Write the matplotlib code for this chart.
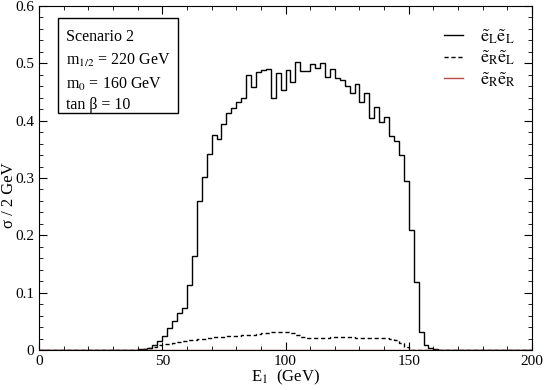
import numpy as np
import matplotlib
matplotlib.use("Agg")
import matplotlib.pyplot as plt
from matplotlib.patches import Rectangle
from matplotlib.ticker import MultipleLocator, FuncFormatter

# 2 GeV bins, first bin starts at E = 40 GeV
bin_width = 2.0
e_start = 40.0

# e~L e~L  (sigma / 2 GeV)
sel_lL = [
    0.001, 0.002, 0.004, 0.009, 0.016, 0.024, 0.038, 0.051, 0.065, 0.074,
    0.113, 0.164, 0.260, 0.301, 0.341, 0.375, 0.368, 0.394, 0.413, 0.422,
    0.433, 0.440, 0.479, 0.459, 0.485, 0.488, 0.490, 0.439, 0.483, 0.454,
    0.488, 0.467, 0.502, 0.486, 0.486, 0.498, 0.492, 0.500, 0.477, 0.490,
    0.474, 0.471, 0.461, 0.448, 0.464, 0.433, 0.449, 0.404, 0.424, 0.398,
    0.407, 0.373, 0.365, 0.340, 0.295, 0.209, 0.119, 0.032, 0.009, 0.003,
    0.001,
]

# e~R e~L
sel_RL = [
    0.000, 0.001, 0.003, 0.006, 0.008, 0.010, 0.011, 0.013, 0.014, 0.015,
    0.017, 0.018, 0.019, 0.020, 0.021, 0.022, 0.023, 0.023, 0.024, 0.025,
    0.025, 0.026, 0.027, 0.027, 0.028, 0.029, 0.030, 0.031, 0.032, 0.032,
    0.031, 0.030, 0.027, 0.023, 0.021, 0.021, 0.021, 0.021, 0.021, 0.022,
    0.022, 0.022, 0.022, 0.022, 0.021, 0.021, 0.021, 0.021, 0.021, 0.021,
    0.021, 0.020, 0.017, 0.012, 0.005,
]

labels = [r"$\mathrm{\tilde{e}_L\tilde{e}_L}$",
          r"$\mathrm{\tilde{e}_R\tilde{e}_L}$",
          r"$\mathrm{\tilde{e}_R\tilde{e}_R}$"]

info_lines = ["Scenario 2", r"m$_{1/2}$ = 220 GeV", r"m$_0$ = 160 GeV", "tan β = 10"]


def full_range(vals):
    # pad with empty bins so the histogram spans 0..200 GeV
    out = np.zeros(100)
    i0 = int(e_start / bin_width)
    out[i0:i0 + len(vals)] = vals
    return out


plt.rcParams["font.family"] = ["Liberation Serif", "DejaVu Serif"]
plt.rcParams["mathtext.fontset"] = "stix"

edges = np.arange(0, 200 + bin_width, bin_width)

fig = plt.figure(figsize=(5.45, 3.9), dpi=100)
ax = fig.add_axes([0.0716, 0.1026, 0.9046, 0.882])

ax.stairs(full_range(sel_lL), edges, color="black", lw=1.0, label=labels[0])
ax.stairs(full_range(sel_RL), edges, color="black", lw=1.0,
          linestyle=(0, (3, 2)), label=labels[1])
ax.stairs(np.zeros(100), edges, color="#b84848", lw=1.0, label=labels[2])

ax.set_xlim(0, 200)
ax.set_ylim(0, 0.6)
ax.xaxis.set_major_locator(MultipleLocator(50))
ax.xaxis.set_minor_locator(MultipleLocator(10))
ax.yaxis.set_major_locator(MultipleLocator(0.1))
ax.yaxis.set_minor_locator(MultipleLocator(0.02))
ax.yaxis.set_major_formatter(FuncFormatter(lambda v, p: "0" if v == 0 else f"{v:.1f}"))
ax.tick_params(which="both", direction="in", top=True, right=True, labelsize=11)
ax.tick_params(which="major", length=6)
ax.tick_params(which="minor", length=3)

ax.set_xlabel(r"E$_1$  (GeV)", fontsize=12, labelpad=0)
ax.set_ylabel("σ / 2 GeV", fontsize=12)
ax.yaxis.set_label_coords(-0.045, 0.45)

# info box
ax.add_patch(Rectangle((0.0385, 0.688), 0.2425, 0.277, transform=ax.transAxes,
                       fill=False, edgecolor="black", lw=1.0))
for txt, yy in zip(info_lines, [0.910, 0.843, 0.773, 0.712]):
    ax.text(0.055, yy, txt, transform=ax.transAxes, fontsize=11.5, va="center")

ax.legend(loc="upper right", bbox_to_anchor=(1.0, 0.985), frameon=False,
          fontsize=13, handlelength=1.1, labelspacing=0.15, handletextpad=0.9)

fig.savefig("out.png", dpi=100)
plt.close(fig)
